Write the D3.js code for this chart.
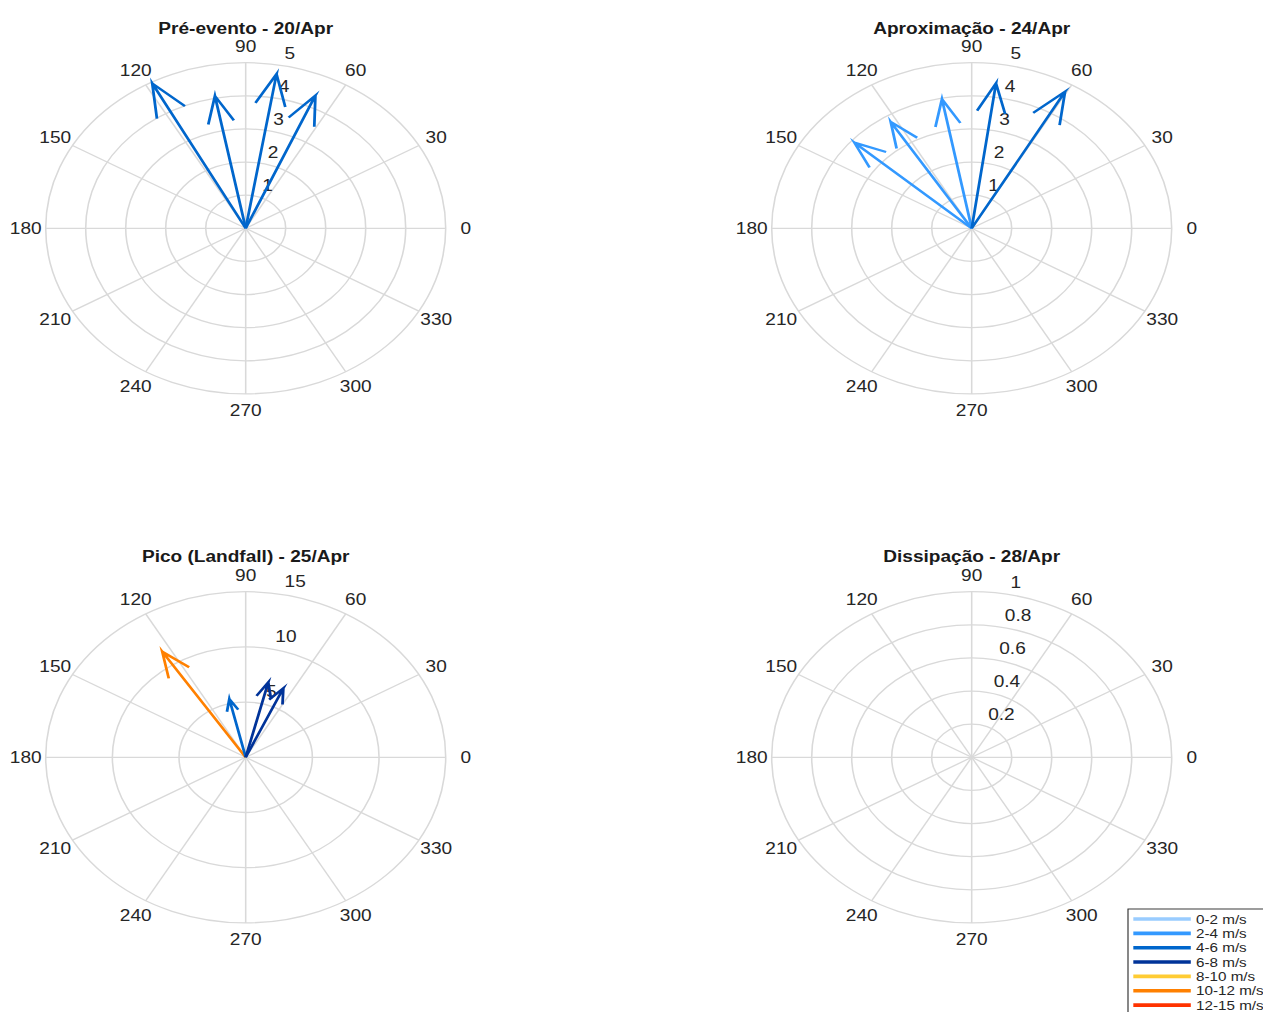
<!DOCTYPE html>
<html>
<head>
<meta charset="utf-8">
<script src="https://cdn.jsdelivr.net/npm/d3@7"></script>
<style>
  html, body { margin: 0; padding: 0; background: #ffffff; }
  svg { display: block; font-family: "Liberation Sans", Arial, Helvetica, sans-serif; }
</style>
</head>
<body>
<svg id="chart" width="1263" height="1012"></svg>
<script>
// Wind vectors (compass plots) for four stages of the storm.
// Direction in degrees (counter-clockwise from east), speed in m/s.
const panelTitles = ["Pré-evento - 20/Apr", "Aproximação - 24/Apr", "Pico (Landfall) - 25/Apr", "Dissipação - 28/Apr"];

const preDir   = [118.1, 100.9, 80.6, 66.5];
const preSpeed = [4.96, 4.07, 4.72, 4.37];

const aprDir   = [138.6, 122.2, 100.8, 82.1, 60.5];
const aprSpeed = [3.91, 3.80, 3.97, 4.42, 4.74];

const picoDir   = [123.2, 103.1, 76.0, 65.7];
const picoSpeed = [11.43, 5.42, 7.00, 6.86];

const disDir   = [];
const disSpeed = [];

// Radial axis extent and ring ticks for each panel
const radialMax   = [5, 5, 15, 1];
const radialTicks = [[1, 2, 3, 4, 5], [1, 2, 3, 4, 5], [5, 10, 15], [0.2, 0.4, 0.6, 0.8, 1]];

// Angular tick labels
const angleTicks = [0, 30, 60, 90, 120, 150, 180, 210, 240, 270, 300, 330];

// Speed classes
const speedEdges  = [2, 4, 6, 8, 10, 12];
const speedLabels = ["0-2 m/s", "2-4 m/s", "4-6 m/s", "6-8 m/s", "8-10 m/s", "10-12 m/s", "12-15 m/s"];
const speedColors = ["#99ccff", "#3399ff", "#0066cc", "#003399", "#ffcc33", "#ff8000", "#ff3300"];

const panelDirs   = [preDir, aprDir, picoDir, disDir];
const panelSpeeds = [preSpeed, aprSpeed, picoSpeed, disSpeed];

// ---- layout ----
const SX = 200 / 165.6;          // figure is stretched horizontally
const R = 165.6;                 // outer ring radius (vertical, px)
const centers = [[245.7, 228.3], [971.7, 228.3], [245.7, 757.3], [971.7, 757.3]];
const GRID = "#d9d9d9";
const TXT = "#262626";
const FS = 15.8;

const svg = d3.select("#chart");
const colorOf = d3.scaleThreshold().domain(speedEdges).range(speedColors);
const toRad = d => d * Math.PI / 180;

panelTitles.forEach((title, p) => {
  const [cx, cy] = centers[p];
  const r = d3.scaleLinear().domain([0, radialMax[p]]).range([0, R]);
  const g = svg.append("g").attr("transform", `translate(${cx},${cy}) scale(${SX},1)`);

  // rings
  g.selectAll("circle.ring").data(radialTicks[p]).join("circle")
    .attr("class", "ring")
    .attr("r", d => r(d))
    .attr("fill", "none").attr("stroke", GRID).attr("stroke-width", 1.3);

  // spokes
  g.selectAll("line.spoke").data(angleTicks).join("line")
    .attr("class", "spoke")
    .attr("x1", 0).attr("y1", 0)
    .attr("x2", d => R * Math.cos(toRad(d)))
    .attr("y2", d => -R * Math.sin(toRad(d)))
    .attr("stroke", GRID).attr("stroke-width", 1.3);

  // angle labels
  g.selectAll("text.ang").data(angleTicks).join("text")
    .attr("class", "ang")
    .attr("x", d => 1.1 * R * Math.cos(toRad(d)))
    .attr("y", d => -1.1 * R * Math.sin(toRad(d)))
    .attr("text-anchor", "middle")
    .attr("dy", "0.36em")
    .attr("font-size", FS).attr("fill", TXT)
    .text(d => d);

  // radial labels along 82°
  const step = radialTicks[p][1] - radialTicks[p][0];
  g.selectAll("text.rad").data(radialTicks[p]).join("text")
    .attr("class", "rad")
    .attr("x", d => r(d + step / 20) * Math.cos(toRad(82)) + 0.556 * FS)
    .attr("y", d => -r(d + step / 20) * Math.sin(toRad(82)) - 3.3)
    .attr("text-anchor", "start")
    .attr("font-size", FS).attr("fill", TXT)
    .text(d => String(+d.toFixed(2)));

  // arrows
  const vecs = panelDirs[p].map((a, i) => ({ a, s: panelSpeeds[p][i] }));
  g.selectAll("path.arrow").data(vecs).join("path")
    .attr("class", "arrow")
    .attr("d", v => {
      const zx = v.s * Math.cos(toRad(v.a)), zy = v.s * Math.sin(toRad(v.a));
      // arrow shape: 0 -> z -> 0.8z + 0.08iz -> z -> 0.8z - 0.08iz
      const pts = [
        [0, 0], [zx, zy],
        [0.8 * zx - 0.08 * zy, 0.8 * zy + 0.08 * zx],
        [zx, zy],
        [0.8 * zx + 0.08 * zy, 0.8 * zy - 0.08 * zx]
      ].map(([x, y]) => [r(x), -r(y)]);
      return d3.line()(pts);
    })
    .attr("fill", "none")
    .attr("stroke", v => colorOf(v.s))
    .attr("stroke-width", 2.3)
    .attr("stroke-linejoin", "miter")
    .attr("stroke-miterlimit", 10);

  // title
  svg.append("text")
    .attr("transform", `translate(${cx},${p < 2 ? 33.9 : 562.3}) scale(${SX},1)`)
    .attr("text-anchor", "middle")
    .attr("font-size", FS).attr("font-weight", "bold").attr("fill", "#1a1a1a")
    .text(title);
});

// ---- legend ----
const lg = svg.append("g").attr("transform", `translate(1128,909) scale(${SX},1)`);
lg.append("rect")
  .attr("x", 0).attr("y", 0).attr("width", 140).attr("height", 104)
  .attr("fill", "#ffffff").attr("stroke", "#262626").attr("stroke-width", 0.9);
const rows = lg.selectAll("g.row").data(speedLabels).join("g")
  .attr("class", "row")
  .attr("transform", (d, i) => `translate(0,${10 + i * 14.35})`);
rows.append("line")
  .attr("x1", 4.4).attr("x2", 52)
  .attr("stroke", (d, i) => speedColors[i]).attr("stroke-width", 3.6);
rows.append("text")
  .attr("x", 56.3).attr("dy", "0.36em")
  .attr("font-size", 12.6).attr("fill", TXT)
  .text(d => d);
</script>
</body>
</html>
